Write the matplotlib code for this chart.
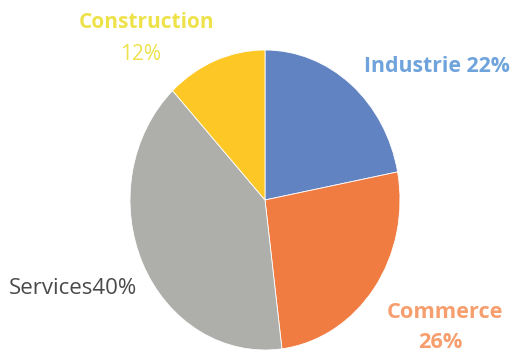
import matplotlib
matplotlib.use("Agg")
import matplotlib.pyplot as plt

# Répartition par secteur
secteurs = ["Industrie", "Commerce", "Services", "Construction"]
parts = [22, 26, 40, 12]
couleurs = ["#6283C2", "#F07C42", "#AEAFAB", "#FDC726"]

W, H = 512, 355
fig = plt.figure(figsize=(W / 100, H / 100), dpi=100)
# pie slightly taller than wide, like the scan
ax = fig.add_axes([130 / W, 5 / H, 270 / W, 300 / H])
ax.pie(parts, colors=couleurs, startangle=90, counterclock=False,
       wedgeprops=dict(edgecolor="white", linewidth=0.6))
ax.set_aspect("auto")
ax.set_xlim(-1, 1)
ax.set_ylim(-1, 1)
ax.axis("off")

font = "Open Sans"

def label(x, y, s, color, ha="left", weight="normal", size=15):
    fig.text(x / W, 1 - y / H, s, color=color, ha=ha, va="center",
             fontsize=size, family=font, weight=weight)

label(147, 23, secteurs[3], "#EEE24A", ha="center", weight="bold", size=15)
label(141, 55, f"{parts[3]}%", "#EEE24A", ha="center", size=15)
label(364, 66, f"{secteurs[0]} {parts[0]}%", "#6FA3DC", weight="bold", size=15.3)
label(9, 289, f"{secteurs[2]}{parts[2]}%", "#4A4A4A", size=16)
label(445, 313, secteurs[1], "#F79E6E", ha="center", weight="bold", size=15.7)
label(440, 342, f"{parts[1]}%", "#F79E6E", ha="center", weight="bold", size=15.7)

fig.savefig("out.png", dpi=100)
